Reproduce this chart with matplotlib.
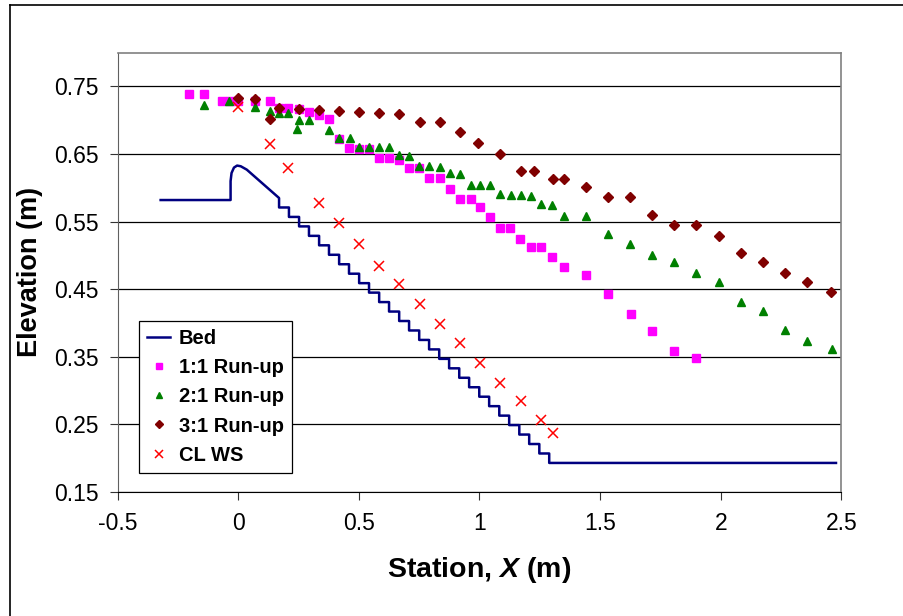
import numpy as np
import matplotlib
matplotlib.use("Agg")
import matplotlib.pyplot as plt
from matplotlib.lines import Line2D

plt.rcParams['font.family'] = ['Liberation Sans', 'DejaVu Sans']
plt.rcParams['mathtext.fontset'] = 'custom'
plt.rcParams['mathtext.bfit'] = 'Liberation Sans:bold:italic'
plt.rcParams['mathtext.it'] = 'Liberation Sans:bold:italic'

# bed profile: approach, crest, then the stepped face
bed_top_x = [-0.322, -0.032, -0.032, -0.028, -0.018, -0.005, 0.010, 0.035, 0.169]
bed_top_y = [0.582, 0.582, 0.610, 0.622, 0.630, 0.633, 0.632, 0.627, 0.585]
step_x = [0.169, 0.210, 0.252, 0.293, 0.335, 0.376, 0.418, 0.459, 0.501, 0.542,
          0.584, 0.625, 0.667, 0.708, 0.750, 0.791, 0.833, 0.874, 0.916, 0.957,
          0.999, 1.040, 1.082, 1.123, 1.165, 1.206, 1.248, 1.289]
step_z = [0.571, 0.557, 0.543, 0.529, 0.515, 0.501, 0.487, 0.473, 0.459, 0.445,
          0.431, 0.417, 0.403, 0.389, 0.375, 0.361, 0.347, 0.333, 0.319, 0.305,
          0.291, 0.277, 0.263, 0.249, 0.235, 0.221, 0.207, 0.193]
bed_end_x = 2.478

# 1:1 run-up
x11 = [-0.204, -0.142, -0.069, -0.036, 0.000, 0.069, 0.131, 0.169, 0.207, 0.252,
       0.293, 0.336, 0.378, 0.419, 0.460, 0.500, 0.542, 0.585, 0.626, 0.668,
       0.709, 0.750, 0.792, 0.836, 0.878, 0.919, 0.965, 1.002, 1.044, 1.085,
       1.126, 1.168, 1.212, 1.253, 1.301, 1.351, 1.442, 1.533, 1.629, 1.716,
       1.808, 1.899]
y11 = [0.739, 0.739, 0.729, 0.729, 0.729, 0.729, 0.728, 0.718, 0.718, 0.716,
       0.712, 0.708, 0.702, 0.673, 0.659, 0.658, 0.658, 0.644, 0.644, 0.641,
       0.630, 0.630, 0.614, 0.614, 0.599, 0.584, 0.583, 0.571, 0.557, 0.541,
       0.540, 0.525, 0.513, 0.513, 0.498, 0.483, 0.471, 0.443, 0.414, 0.388,
       0.358, 0.348]

# 2:1 run-up
x21 = [-0.142, -0.037, 0.069, 0.131, 0.169, 0.207, 0.252, 0.245, 0.293, 0.377,
       0.419, 0.463, 0.500, 0.542, 0.585, 0.626, 0.668, 0.709, 0.750, 0.792,
       0.836, 0.878, 0.919, 0.965, 1.002, 1.044, 1.085, 1.129, 1.171, 1.212,
       1.254, 1.301, 1.349, 1.442, 1.533, 1.624, 1.716, 1.808, 1.899, 1.992,
       2.083, 2.174, 2.265, 2.357, 2.460]
y21 = [0.722, 0.728, 0.720, 0.714, 0.711, 0.711, 0.701, 0.687, 0.700, 0.686,
       0.674, 0.674, 0.660, 0.661, 0.661, 0.661, 0.649, 0.647, 0.633, 0.632,
       0.631, 0.622, 0.621, 0.604, 0.604, 0.604, 0.591, 0.589, 0.589, 0.588,
       0.576, 0.575, 0.559, 0.558, 0.532, 0.517, 0.500, 0.490, 0.474, 0.461,
       0.431, 0.418, 0.390, 0.374, 0.361]

# 3:1 run-up
x31 = [0.000, 0.069, 0.131, 0.169, 0.252, 0.336, 0.417, 0.500, 0.585, 0.668,
       0.753, 0.836, 0.919, 0.993, 1.085, 1.171, 1.225, 1.306, 1.349, 1.442,
       1.533, 1.624, 1.716, 1.808, 1.899, 1.992, 2.083, 2.174, 2.265, 2.357,
       2.456]
y31 = [0.733, 0.731, 0.702, 0.718, 0.716, 0.715, 0.714, 0.712, 0.711, 0.710,
       0.697, 0.697, 0.682, 0.666, 0.650, 0.625, 0.625, 0.613, 0.613, 0.601,
       0.586, 0.586, 0.560, 0.545, 0.545, 0.529, 0.504, 0.490, 0.474, 0.461,
       0.446]

# centreline water surface
xws = [0.000, 0.131, 0.207, 0.336, 0.419, 0.502, 0.585, 0.668, 0.753, 0.836,
       0.919, 1.002, 1.085, 1.171, 1.254, 1.306]
yws = [0.719, 0.665, 0.630, 0.578, 0.548, 0.517, 0.485, 0.458, 0.428, 0.398,
       0.370, 0.341, 0.312, 0.284, 0.256, 0.238]

# build the stepped bed line from the step list
bx = list(bed_top_x)
by = list(bed_top_y)
for i in range(len(step_x)):
    bx += [step_x[i], step_x[i + 1] if i + 1 < len(step_x) else step_x[i]]
    by += [step_z[i], step_z[i]]
bx[-1] = bed_end_x

fig = plt.figure(figsize=(9.04, 6.16), dpi=100)
ax = fig.add_axes([117.7/904, 1 - 492/616, (841.3 - 117.7)/904, (492 - 52.7)/616])

ax.plot(bx, by, color='#000080', lw=1.8, label='Bed', zorder=3)
ax.plot(x11, y11, ls='none', marker='s', ms=5.8, color='#FF00FF', mec='#FF00FF',
        label='1:1 Run-up', zorder=4)
ax.plot(x21, y21, ls='none', marker='^', ms=6, color='#008000', mec='#008000',
        label='2:1 Run-up', zorder=4)
ax.plot(x31, y31, ls='none', marker='D', ms=4.6, color='#800000', mec='#800000',
        label='3:1 Run-up', zorder=5)
ax.plot(xws, yws, ls='none', marker='x', ms=6.5, mew=1.1, color='#FF0000',
        label='CL WS', zorder=5)

ax.set_xlim(-0.5, 2.5)
ax.set_ylim(0.15, 0.80)
ax.set_xticks([-0.5, 0, 0.5, 1, 1.5, 2, 2.5])
ax.set_xticklabels(['-0.5', '0', '0.5', '1', '1.5', '2', '2.5'])
ax.set_yticks([0.15, 0.25, 0.35, 0.45, 0.55, 0.65, 0.75])
ax.set_yticklabels(['0.15', '0.25', '0.35', '0.45', '0.55', '0.65', '0.75'])
ax.yaxis.grid(True, color='black', lw=0.9)
ax.set_axisbelow(True)
ax.tick_params(axis='both', direction='out', length=5.5, width=0.8,
               labelsize=16.5, color='#333333')
ax.tick_params(axis='x', pad=9)
ax.tick_params(axis='y', pad=8)

for s in ['top', 'right']:
    ax.spines[s].set_color('#808080')
    ax.spines[s].set_linewidth(1.2)
ax.spines['left'].set_color('#606060')
ax.spines['bottom'].set_color('black')

ax.set_xlabel('Station, $X$ (m)', fontsize=20.5, fontweight='bold', labelpad=14)
ax.set_ylabel('Elevation (m)', fontsize=19.5, fontweight='bold', labelpad=8)

leg = ax.legend(loc='lower left', bbox_to_anchor=(0.03, 0.044), borderaxespad=0,
                prop={'weight': 'bold', 'size': 14.5}, fancybox=False,
                edgecolor='black', framealpha=1, handlelength=1.1, handletextpad=0.45,
                labelspacing=0.5, borderpad=0.4, markerscale=0.8)
leg.get_frame().set_linewidth(0.9)

# outer chart border (left and top visible)
fig.add_artist(Line2D([10/904, 10/904], [0, 1 - 5/616], color='black', lw=1.2))
fig.add_artist(Line2D([10/904, 1], [1 - 5/616, 1 - 5/616], color='black', lw=1.2))

fig.savefig('out.png', dpi=100)
